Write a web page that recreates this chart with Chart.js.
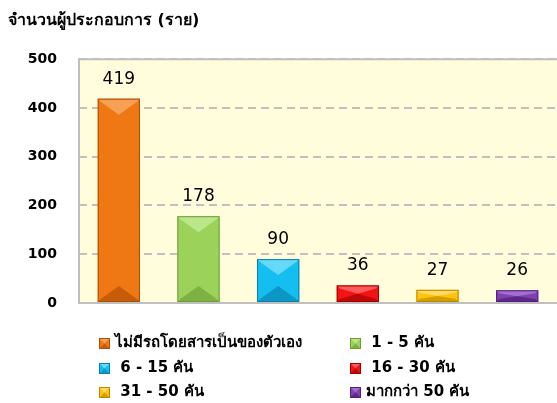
<!DOCTYPE html>
<html>
<head>
<meta charset="utf-8">
<script src="https://cdn.jsdelivr.net/npm/chart.js@4/dist/chart.umd.min.js"></script>
<style>
  html, body { margin: 0; padding: 0; background: #fff; }
  #wrap { width: 557px; height: 403px; position: relative; }
</style>
</head>
<body>
<div id="wrap"><canvas id="chart1"></canvas></div>
<script>
const categories = ["ไม่มีรถโดยสารเป็นของตัวเอง", " 1 - 5 คัน", " 6 - 15 คัน", " 16 - 30 คัน", " 31 - 50 คัน", "มากกว่า 50 คัน"];
const operators = [419, 178, 90, 36, 27, 26];
const yMax = 500;
const yStep = 100;
const yTitle = "จำนวนผู้ประกอบการ (ราย)";

const FONT = "Tahoma, 'DejaVu Sans', sans-serif";

// base / light / dark / border for each bar
const barColors = ["#F07814", "#9BD35A", "#14BEF0", "#F21414", "#FFC20E", "#8040B0"];
const lightColors = ["#F9A057", "#BCE68C", "#66D8FA", "#FF5A5A", "#FFDB66", "#A270CC"];
const darkColors = ["#C65C08", "#7DB242", "#0C96C6", "#BE0808", "#D49E00", "#5E268A"];
const edgeColors = ["#A85008", "#6E9E38", "#0A80AA", "#A00000", "#B88A00", "#50207A"];

function bevel(ctx, left, top, right, bottom, i) {
  const w = right - left;
  const h = bottom - top;
  const d = Math.min(16, h / 2, w / 2);
  const cx = (left + right) / 2;
  ctx.save();
  ctx.fillStyle = barColors[i];
  ctx.fillRect(left, top, w, h);
  // top facet
  ctx.fillStyle = lightColors[i];
  ctx.beginPath();
  ctx.moveTo(left, top);
  ctx.lineTo(right, top);
  ctx.lineTo(right - Math.min(3, w / 4), top + Math.min(3, h / 4));
  ctx.lineTo(cx, top + d);
  ctx.lineTo(left + Math.min(3, w / 4), top + Math.min(3, h / 4));
  ctx.closePath();
  ctx.fill();
  // bottom facet
  ctx.fillStyle = darkColors[i];
  ctx.beginPath();
  ctx.moveTo(left, bottom);
  ctx.lineTo(right, bottom);
  ctx.lineTo(right - Math.min(3, w / 4), bottom - Math.min(3, h / 4));
  ctx.lineTo(cx, bottom - d);
  ctx.lineTo(left + Math.min(3, w / 4), bottom - Math.min(3, h / 4));
  ctx.closePath();
  ctx.fill();
  ctx.strokeStyle = edgeColors[i];
  ctx.lineWidth = 1;
  ctx.strokeRect(left + 0.5, top + 0.5, w - 1, h - 1);
  ctx.restore();
}

// plot background and frame
const plotArea = {
  id: "plotArea",
  beforeDraw(chart) {
    const { ctx, chartArea: a } = chart;
    ctx.save();
    ctx.fillStyle = "#FFFDDC";
    ctx.fillRect(a.left, a.top, a.right - a.left, a.bottom - a.top);
    ctx.restore();
  },
  afterDraw(chart) {
    const { ctx, chartArea: a } = chart;
    ctx.save();
    ctx.strokeStyle = "#BFBFBF";
    ctx.lineWidth = 2;
    ctx.beginPath();
    ctx.moveTo(a.right + 2, a.top);
    ctx.lineTo(a.left, a.top);
    ctx.lineTo(a.left, a.bottom);
    ctx.lineTo(a.right + 2, a.bottom);
    ctx.stroke();
    ctx.restore();
  }
};

// 3d-ish bars plus value labels
const bevelBars = {
  id: "bevelBars",
  afterDatasetsDraw(chart) {
    const { ctx } = chart;
    const meta = chart.getDatasetMeta(0);
    meta.data.forEach((bar, i) => {
      const p = bar.getProps(["x", "y", "base", "width"], true);
      bevel(ctx, p.x - p.width / 2, p.y, p.x + p.width / 2, p.base, i);
      ctx.save();
      ctx.fillStyle = "#000";
      ctx.font = "17px " + FONT;
      ctx.textAlign = "center";
      ctx.textBaseline = "alphabetic";
      ctx.fillText(String(operators[i]), p.x, p.y - 15);
      ctx.restore();
    });
  }
};

// two-column legend under the plot
const twoColLegend = {
  id: "twoColLegend",
  afterDraw(chart) {
    const { ctx } = chart;
    const colX = [99, 350];
    const rowY = [343, 368, 392];
    ctx.save();
    ctx.font = "bold 15px " + FONT;
    ctx.textBaseline = "middle";
    categories.forEach((c, i) => {
      const x = colX[i % 2];
      const y = rowY[Math.floor(i / 2)];
      bevel(ctx, x, y - 5, x + 11, y + 6, i);
      ctx.fillStyle = "#000";
      ctx.fillText(c, x + 16, y);
    });
    ctx.restore();
  }
};

const ctx1 = document.getElementById("chart1").getContext("2d");
new Chart(ctx1, {
  type: "bar",
  data: {
    labels: categories,
    datasets: [
      {
        label: yTitle,
        data: operators,
        backgroundColor: "rgba(0,0,0,0)",
        borderWidth: 0,
        categoryPercentage: 1,
        barPercentage: 0.53,
      },
    ],
  },
  options: {
    responsive: true,
    maintainAspectRatio: false,
    animation: false,
    layout: { padding: { left: 8, right: 0, top: 0, bottom: 100 } },
    plugins: {
      legend: { display: false },
      tooltip: { enabled: false },
      title: {
        display: true,
        text: yTitle,
        align: "start",
        color: "#000",
        font: { family: FONT, size: 16, weight: "bold" },
        padding: { top: 11, bottom: 29 },
      },
    },
    scales: {
      x: {
        ticks: { display: false },
        grid: { display: false, drawTicks: false },
        border: { display: false },
      },
      y: {
        min: 0,
        max: yMax,
        afterFit(scale) {
          scale.width = 71;
        },
        ticks: {
          stepSize: yStep,
          padding: 22,
          color: "#000",
          font: { family: FONT, size: 14, weight: "bold" },
        },
        grid: {
          color: "#C0C0C0",
          lineWidth: 2,
          drawTicks: false,
        },
        border: { display: false, dash: [8, 5] },
      },
    },
  },
  plugins: [plotArea, bevelBars, twoColLegend],
});
</script>
</body>
</html>
